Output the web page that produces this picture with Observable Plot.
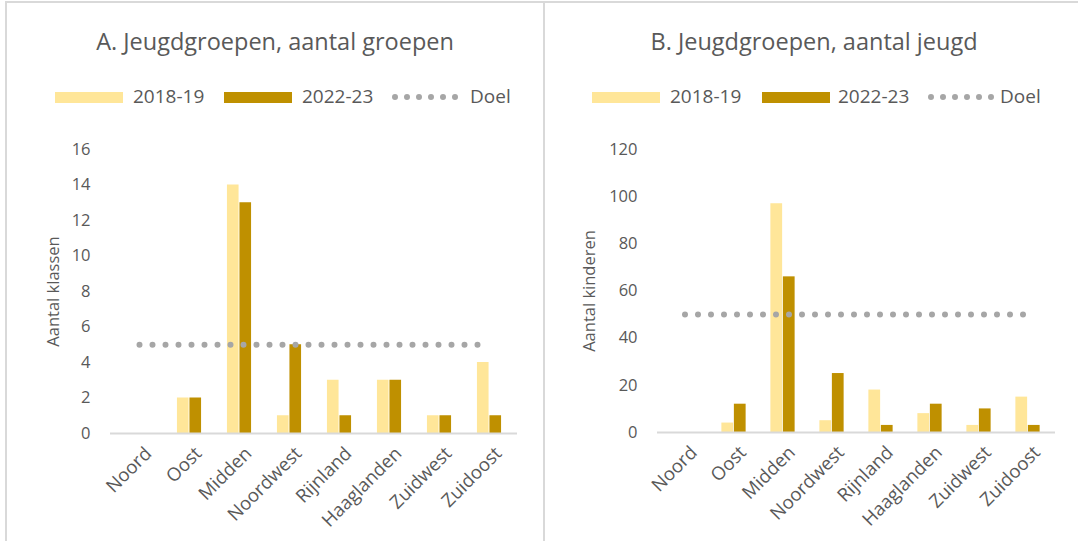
<!DOCTYPE html>
<html>
<head>
<meta charset="utf-8">
<script src="https://cdn.jsdelivr.net/npm/d3@7"></script>
<script src="https://cdn.jsdelivr.net/npm/@observablehq/plot@0.6"></script>
<style>
  html, body { margin: 0; padding: 0; background: #fff; }
  #root { position: relative; width: 1078px; height: 541px; overflow: hidden; font-family: "Open Sans", sans-serif; color: #595959; }
  .line { position: absolute; background: #D9D9D9; }
  .title { position: absolute; font-size: 23.5px; line-height: normal; text-align: center; white-space: nowrap; }
  .sw { position: absolute; height: 11px; }
  .lt { position: absolute; font-size: 19px; line-height: 20px; white-space: nowrap; }
  .chart { position: absolute; top: 130px; }
</style>
</head>
<body>
<div id="root"></div>
<script>
// ---- data ----
const regions = ["Noord", "Oost", "Midden", "Noordwest", "Rijnland", "Haaglanden", "Zuidwest", "Zuidoost"];
const seriesNames = ["2018-19", "2022-23"];
const goalName = "Doel";
const groepen2018 = [0, 2, 14, 1, 3, 3, 1, 4];
const groepen2022 = [0, 2, 13, 5, 1, 3, 1, 1];
const doelGroepen = 5;
const jeugd2018 = [0, 4, 97, 5, 18, 8, 3, 15];
const jeugd2022 = [0, 12, 66, 25, 3, 12, 10, 3];
const doelJeugd = 50;
const ticksA = [0, 2, 4, 6, 8, 10, 12, 14, 16];
const ticksB = [0, 20, 40, 60, 80, 100, 120];
const titleA = "A. Jeugdgroepen, aantal groepen";
const titleB = "B. Jeugdgroepen, aantal jeugd";
const labelA = "Aantal klassen";
const labelB = "Aantal kinderen";

// ---- style ----
const colorLight = "#FFE699";
const colorDark = "#BF9000";
const colorGoal = "#A6A6A6";
const textColor = "#595959";

const root = document.getElementById("root");
function add(html) { root.insertAdjacentHTML("beforeend", html); }

// frame lines
add(`<div class="line" style="left:5px;top:1px;width:1073px;height:2px"></div>`);
add(`<div class="line" style="left:5px;top:1px;width:2px;height:540px"></div>`);
add(`<div class="line" style="left:543px;top:1px;width:2px;height:540px"></div>`);

function legend(pos) {
  add(`<div class="sw" style="left:${pos[0]}px;top:92px;width:68px;background:${colorLight}"></div>`);
  add(`<div class="lt" style="left:${pos[1]}px;top:86px">${seriesNames[0]}</div>`);
  add(`<div class="sw" style="left:${pos[2]}px;top:92px;width:68px;background:${colorDark}"></div>`);
  add(`<div class="lt" style="left:${pos[3]}px;top:86px">${seriesNames[1]}</div>`);
  add(`<svg style="position:absolute;left:${pos[4]}px;top:91px" width="70" height="12"><line x1="3" y1="6" x2="64" y2="6" stroke="${colorGoal}" stroke-width="6" stroke-linecap="round" stroke-dasharray="0 12"/></svg>`);
  add(`<div class="lt" style="left:${pos[5]}px;top:86px">${goalName}</div>`);
}

function chart({v1, v2, goal, ticks, label, left, width, marginLeft, marginRight, marginTop, marginBottom, labelOffset}) {
  const height = 410;
  const bw = (width - marginLeft - marginRight) / regions.length;
  const barW = 12.5;
  const rows1 = regions.map((r, i) => ({region: r, value: v1[i]}));
  const rows2 = regions.map((r, i) => ({region: r, value: v2[i]}));
  const goalRows = regions.map(r => ({region: r, value: goal}));
  const svg = Plot.plot({
    width, height, marginLeft, marginRight, marginTop, marginBottom,
    style: {fontFamily: "Open Sans", fontSize: "16.5px", color: textColor, background: "transparent", overflow: "visible"},
    x: {domain: regions, padding: 0, label: null},
    y: {domain: [0, ticks[ticks.length - 1]]},
    marks: [
      Plot.axisX({tickRotate: -45, tickSize: 0, tickPadding: 17, dx: 9, fontSize: 18.5, label: null}),
      Plot.axisY({ticks, tickSize: 0, tickPadding: 20, label, labelAnchor: "center", labelOffset, labelArrow: "none", fontSize: 16.5}),
      Plot.barY(rows1, {x: "region", y: "value", fill: colorLight, insetLeft: bw / 2 - barW, insetRight: bw / 2}),
      Plot.barY(rows2, {x: "region", y: "value", fill: colorDark, insetLeft: bw / 2, insetRight: bw / 2 - barW}),
      Plot.ruleY([0], {stroke: "#D9D9D9", strokeWidth: 2}),
      Plot.lineY(goalRows, {x: "region", y: "value", stroke: colorGoal, strokeWidth: 6, strokeLinecap: "round", strokeDasharray: "0 13"})
    ]
  });
  const wrap = document.createElement("div");
  wrap.className = "chart";
  wrap.style.left = left + "px";
  wrap.appendChild(svg);
  root.appendChild(wrap);
}

add(`<div class="title" style="left:0;width:550px;top:25px">${titleA}</div>`);
add(`<div class="title" style="left:545px;width:538px;top:25px">${titleB}</div>`);
legend([55, 133, 224, 302, 392, 470]);
legend([592, 670, 762, 838, 928, 1000]);

chart({v1: groepen2018, v2: groepen2022, goal: doelGroepen, ticks: ticksA, label: labelA,
  left: 0, width: 540, marginLeft: 110, marginRight: 23, marginTop: 19, marginBottom: 107, labelOffset: 63});
chart({v1: jeugd2018, v2: jeugd2022, goal: doelJeugd, ticks: ticksB, label: labelB,
  left: 540, width: 538, marginLeft: 117, marginRight: 23, marginTop: 19, marginBottom: 108, labelOffset: 74});
</script>
</body>
</html>
